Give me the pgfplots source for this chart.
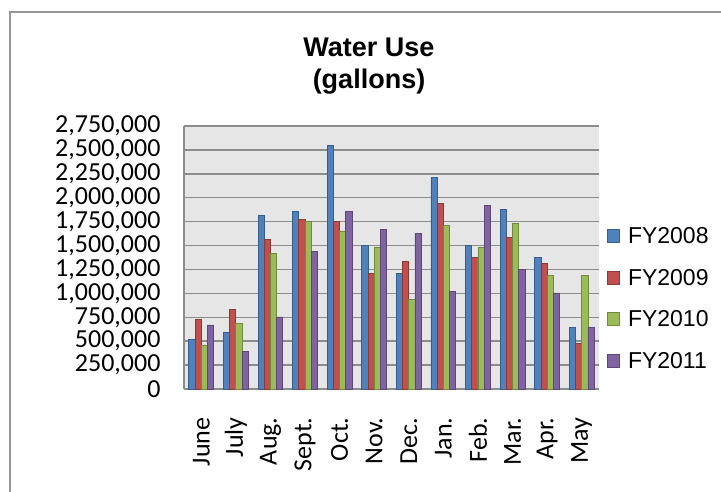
\documentclass[border=0pt]{standalone}
\usepackage{pgfplots}
\pgfplotsset{compat=1.18}
\usepackage{pgfplotstable}
\usepackage{fontspec}
\setmainfont{Liberation Sans}
\newfontfamily\calib{Carlito}
\definecolor{c1}{HTML}{4F81BD}\definecolor{c1d}{HTML}{385D8A}
\definecolor{c2}{HTML}{C0504D}\definecolor{c2d}{HTML}{8C3836}
\definecolor{c3}{HTML}{9BBB59}\definecolor{c3d}{HTML}{71893F}
\definecolor{c4}{HTML}{8064A2}\definecolor{c4d}{HTML}{5C4776}
\definecolor{plotbg}{HTML}{E6E6E6}
\definecolor{gridc}{HTML}{8C8C8C}
\pgfplotstableread{
x a b c d
0 520000 729000 460000 670000
1 589000 833000 687000 397000
2 1813000 1565000 1419000 753000
3 1858000 1775000 1754000 1440000
4 2545000 1754000 1653000 1858000
5 1503000 1206000 1482000 1670000
6 1210000 1335000 938000 1628000
7 2211000 1939000 1708000 1022000
8 1503000 1377000 1482000 1918000
9 1879000 1586000 1733000 1252000
10 1377000 1314000 1189000 1004000
11 645000 481000 1189000 645000
}\datatable
\begin{document}
\begin{tikzpicture}[x=1pt,y=1pt]
\path[use as bounding box] (0,0) rectangle (721,491);
\draw[gridc!90,line width=1.2pt] (10,-10) -- (10,479) -- (740,479);
\node[font=\fontsize{27}{32}\selectfont\bfseries] at (369,444) {Water Use};
\node[font=\fontsize{27}{32}\selectfont\bfseries] at (369,409) {(gallons)};
\begin{axis}[
  at={(184pt,102pt)}, anchor=south west,
  width=415pt, height=263pt, scale only axis,
  ybar=0pt, bar width=6.2pt,
  xmin=-0.5, xmax=11.5,
  ymin=0, ymax=2750000,
  ytick={0,250000,...,2750000},
  scaled y ticks=false,
  /pgf/number format/assume math mode=true,
  yticklabel style={/pgf/number format/fixed,/pgf/number format/1000 sep={,},xshift=-20pt},
  xtick=data,
  xticklabels={June,July,Aug.,Sept.,Oct.,Nov.,Dec.,Jan.,Feb.,Mar.,Apr.,May},
  xticklabel style={yshift=-20pt,rotate=90,anchor=east},
  tick label style={font=\calib\fontsize{26}{28}\selectfont},
  xtick style={draw=none},
  ytick style={draw=gridc,line width=1pt},
  major tick length=5pt,
  tick pos=left,
  axis background/.style={fill=plotbg},
  ymajorgrids, grid style={gridc,line width=1.5pt},
  axis line style={draw=gridc,line width=1.5pt},
  axis x line*=bottom, axis y line*=left,
  legend style={draw=none,fill=none,at={(1,0.344)},anchor=west,xshift=5pt,
    font=\fontsize{23}{27}\selectfont,row sep=20pt,
    /tikz/every odd column/.append style={column sep=6pt}},
  legend cell align=left,
  legend image code/.code={\draw[#1,line width=0.8pt] (0pt,-6.5pt) rectangle (12pt,6.5pt);},
]
\addplot[fill=c1,draw=c1d,line width=0.8pt] table[x=x,y=a]{\datatable};
\addplot[fill=c2,draw=c2d,line width=0.8pt] table[x=x,y=b]{\datatable};
\addplot[fill=c3,draw=c3d,line width=0.8pt] table[x=x,y=c]{\datatable};
\addplot[fill=c4,draw=c4d,line width=0.8pt] table[x=x,y=d]{\datatable};
\legend{FY2008,FY2009,FY2010,FY2011}
\end{axis}
\end{tikzpicture}
\end{document}
